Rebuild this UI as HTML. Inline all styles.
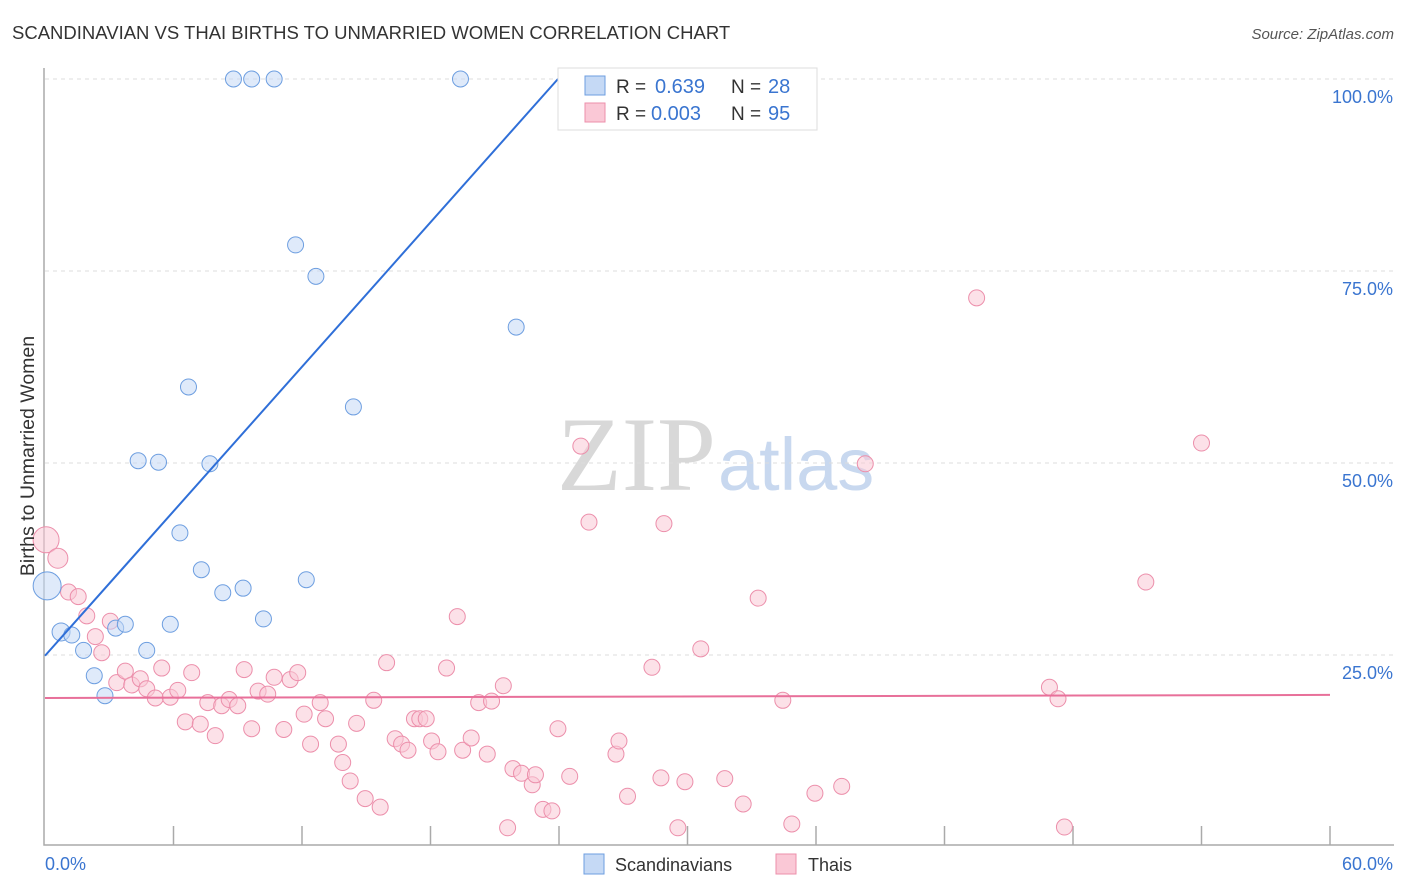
<!DOCTYPE html>
<html><head><meta charset="utf-8"><style>
body{margin:0;background:#fff;font-family:"Liberation Sans",sans-serif}
svg{display:block}
</style></head><body>
<svg id="chart" width="1406" height="892">
<text x="12" y="39" font-size="18.5" fill="#333">SCANDINAVIAN VS THAI BIRTHS TO UNMARRIED WOMEN CORRELATION CHART</text>
<text x="1394" y="39" font-size="15" fill="#555" text-anchor="end" font-style="italic">Source: ZipAtlas.com</text>
<text x="716" y="490" font-size="106" fill="#d8d8d8" text-anchor="end" font-family="Liberation Serif">ZIP</text>
<text x="718" y="490" font-size="74" fill="#c8d8ef">atlas</text>
<g id="grid"></g>
<g id="axes"></g>
<g id="pts"></g>
<g id="lines"></g>
<text transform="translate(34,456) rotate(-90)" font-size="19.5" fill="#333" text-anchor="middle">Births to Unmarried Women</text>
<text x="45" y="870" font-size="18" fill="#3a75d0">0.0%</text>
<text x="1393" y="870" font-size="18" fill="#3a75d0" text-anchor="end">60.0%</text>
<g>
<rect x="558" y="68" width="259" height="62" fill="#fff" stroke="#ddd"/>
<rect x="585" y="76" width="20" height="19" fill="#c5d9f5" stroke="#6d9ee0"/>
<rect x="585" y="103" width="20" height="19" fill="#fac8d6" stroke="#ec8fab"/>
<text x="616" y="93" font-size="19" fill="#333">R =</text>
<text x="655" y="93" font-size="20" fill="#3a75d0">0.639</text>
<text x="731" y="93" font-size="19" fill="#333">N =</text>
<text x="768" y="93" font-size="20" fill="#3a75d0">28</text>
<text x="616" y="120" font-size="19" fill="#333">R =</text>
<text x="651" y="120" font-size="20" fill="#3a75d0">0.003</text>
<text x="731" y="120" font-size="19" fill="#333">N =</text>
<text x="768" y="120" font-size="20" fill="#3a75d0">95</text>
</g>
<g>
<rect x="584" y="854" width="20" height="20" fill="#c5d9f5" stroke="#6d9ee0"/>
<text x="615" y="871" font-size="18" fill="#333">Scandinavians</text>
<rect x="776" y="854" width="20" height="20" fill="#fac8d6" stroke="#ec8fab"/>
<text x="808" y="871" font-size="18" fill="#333">Thais</text>
</g>
</svg>
<script>
const yTicks=[25,50,75,100];
const xTicksCount=10;
const scandX=[0.1,0.75,1.25,1.8,2.3,2.8,3.3,3.75,4.75,5.85,4.35,5.3,6.3,6.7,7.3,7.7,8.3,9.25,10.2,8.8,9.65,10.7,11.7,12.65,14.4,12.2,19.4,22.0];
const scandY=[34,28,27.6,25.6,22.3,19.7,28.5,29,25.6,29,50.3,50.1,40.9,59.9,36.1,49.9,33.1,33.7,29.7,100,100,100,78.4,74.3,57.3,34.8,100,67.7];
const scandR=[14,9,8,8,8,8,8,8,8,8,8,8,8,8,8,8,8,8,8,8,8,8,8,8,8,8,8,8];
const thaiX=[0.05,0.6,1.1,1.55,1.95,2.35,2.65,3.05,3.35,3.75,4.05,4.45,4.75,5.15,5.45,5.85,6.2,6.55,6.85,7.25,7.6,7.95,8.25,8.6,9.0,9.3,9.65,9.95,10.4,10.7,11.15,11.45,11.8,12.1,12.4,12.85,13.1,13.7,13.9,14.25,14.55,14.95,15.35,15.65,15.95,16.35,16.65,16.95,17.25,17.5,17.8,18.05,18.35,18.75,19.25,19.5,19.9,20.25,20.65,20.85,21.4,21.6,21.85,22.25,22.75,22.9,
23.25,23.67,23.95,24.5,25.02,25.4,26.66,26.8,27.2,28.34,28.76,28.9,29.55,29.88,30.62,31.74,32.6,33.3,34.45,34.87,35.95,37.2,38.3,43.5,46.9,47.3,47.6,51.4,54.0];
const thaiY=[40,37.6,33.2,32.6,30.1,27.4,25.3,29.4,21.4,22.9,21.1,21.9,20.6,19.4,23.3,19.5,20.4,16.3,22.7,16,18.8,14.5,18.4,19.2,18.4,23.1,15.4,20.3,19.9,22.1,15.3,21.8,22.7,17.3,13.4,18.8,16.7,13.4,11,8.6,16.1,6.3,19.1,5.2,24,14.1,13.4,12.6,16.7,16.7,16.7,13.8,12.4,23.3,30,12.6,14.2,18.8,12.1,19,21,2.5,10.2,9.6,8.1,9.4,
4.9,4.7,15.4,9.2,52.2,42.3,12.1,13.8,6.6,23.4,9.0,42.1,2.5,8.5,25.8,8.9,5.6,32.4,19.1,3.0,7.0,7.9,49.9,71.5,20.8,19.3,2.6,34.5,52.6];
const thaiR=thaiX.map((v,i)=>i===0?13:(i===1?10:8));
const blueLine=[[0,24.9],[23.95,100]];
const pinkLine=[[0,19.4],[60,19.8]];
const X0=45,X1=1330,Y0=847,Y100=79;
const sx=v=>X0+(X1-X0)*v/60;
const sy=v=>Y0-(Y0-Y100)*v/100;
const NS='http://www.w3.org/2000/svg';
function mk(tag,attrs,parent){const e=document.createElementNS(NS,tag);for(const k in attrs)e.setAttribute(k,attrs[k]);parent.appendChild(e);return e;}
const grid=document.getElementById('grid'),axes=document.getElementById('axes'),pts=document.getElementById('pts'),lines=document.getElementById('lines');
yTicks.forEach(t=>{
 const l=mk('line',{x1:X0,x2:1394,y1:sy(t),y2:sy(t),stroke:'#ddd','stroke-dasharray':'4,4'},grid);
 
 
 const tx=mk('text',{x:1393,y:sy(t)+24,'font-size':18,fill:'#3a75d0','text-anchor':'end'},grid);
 tx.textContent=t.toFixed(1)+'%';
 
 
});
const ax=mk('path',{d:`M44 68 V845 H1394`,stroke:'#aaa',fill:'none','stroke-width':1.5},axes);


for(let i=1;i<=xTicksCount;i++){
 const x=sx(i*6);
 const t=mk('line',{x1:x,x2:x,y1:826,y2:845,stroke:'#aaa','stroke-width':1.5},axes);
 
 
}
function drawPts(X,Y,R,fill,stroke,name){
 X.forEach((v,i)=>{
  const c=mk('circle',{cx:sx(v),cy:sy(Y[i]),r:R[i],fill:fill,'fill-opacity':0.55,stroke:stroke,'stroke-width':1},pts);
  
  
 });
}
drawPts(thaiX,thaiY,thaiR,'#fac8d6','#ec8fab','thai-point');
drawPts(scandX,scandY,scandR,'#c5d9f5','#6d9ee0','scandinavian-point');
const bl=mk('line',{x1:sx(blueLine[0][0]),y1:sy(blueLine[0][1]),x2:sx(blueLine[1][0]),y2:sy(blueLine[1][1]),stroke:'#2f6fd8','stroke-width':2},lines);


const pl=mk('line',{x1:sx(pinkLine[0][0]),y1:sy(pinkLine[0][1]),x2:sx(pinkLine[1][0]),y2:sy(pinkLine[1][1]),stroke:'#e8709a','stroke-width':2},lines);


</script>
</body></html>
